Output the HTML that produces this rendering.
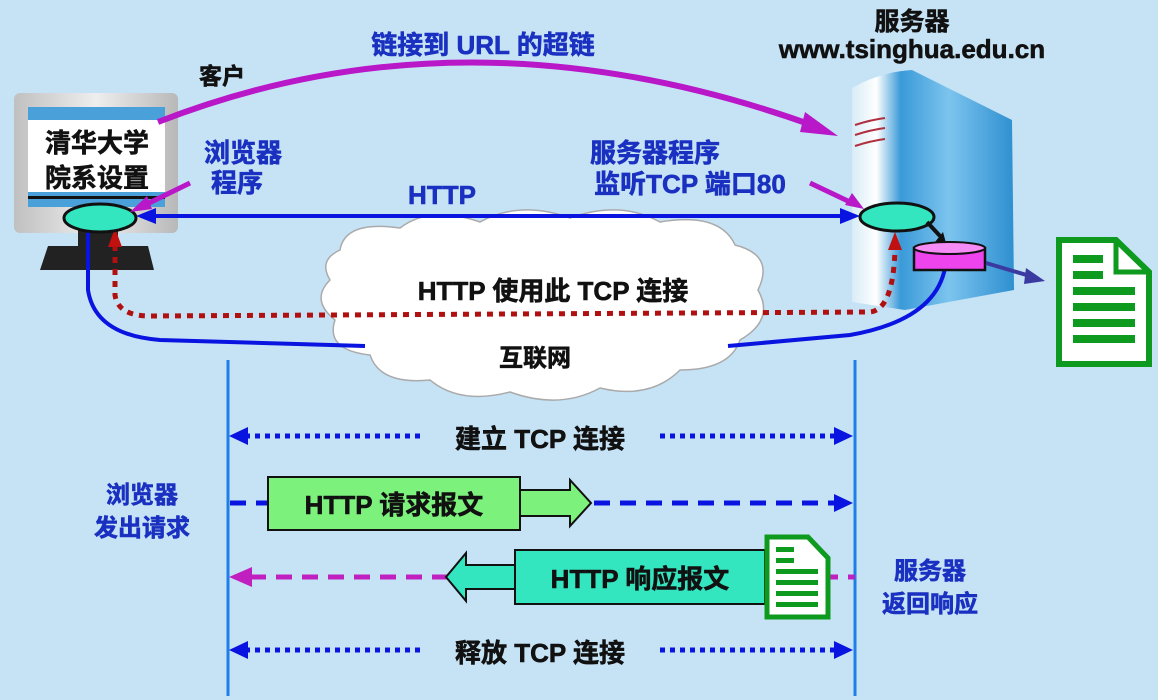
<!DOCTYPE html>
<html><head><meta charset="utf-8"><style>
html,body{margin:0;padding:0;background:#c6e3f6;}
svg{display:block;font-family:"Liberation Sans","Noto Sans CJK SC",sans-serif;font-weight:bold;}
text{stroke-width:0.6px;}
</style></head><body>
<svg width="1158" height="700" viewBox="0 0 1158 700" xmlns="http://www.w3.org/2000/svg">
<defs>
<linearGradient id="srv" x1="0" x2="1"><stop offset="0" stop-color="#d8ecf6"/><stop offset="0.15" stop-color="#ffffff"/><stop offset="0.3" stop-color="#3a9ad8"/><stop offset="0.6" stop-color="#7cc4ee"/><stop offset="1" stop-color="#2e8fd0"/></linearGradient>
<linearGradient id="mon" x1="0" x2="1"><stop offset="0" stop-color="#c0c0c0"/><stop offset="0.5" stop-color="#eeeeee"/><stop offset="1" stop-color="#b8b8b8"/></linearGradient>
</defs>

<!-- monitor -->
<rect x="14" y="93" width="164" height="140" rx="6" fill="url(#mon)"/>
<rect x="28" y="107" width="137" height="100" fill="#4aa0d8"/>
<rect x="28" y="120" width="137" height="72" fill="#fff"/>
<rect x="28" y="196" width="137" height="3" fill="#111"/>
<rect x="78" y="230" width="40" height="20" fill="#222"/>
<path d="M48,246 L148,246 L154,270 L40,270z" fill="#222"/>
<text x="97" y="152" font-size="26" text-anchor="middle" fill="#111" stroke="#111">清华大学</text>
<text x="97" y="187" font-size="26" text-anchor="middle" fill="#111" stroke="#111">院系设置</text>

<!-- server -->
<path d="M852,88 Q880,72 912,70 L1012,120 L1014,290 L905,310 L852,302z" fill="url(#srv)"/>
<path d="M855,125 Q870,120 885,118 M855,135 Q870,130 885,128 M855,146 Q870,141 885,139" stroke="#b03040" stroke-width="2" fill="none"/>

<!-- cloud -->
<path d="M340,250 Q345,220 400,228 Q430,205 480,222 Q520,200 570,218 Q620,200 660,222 Q720,212 735,245 Q775,255 758,290 Q775,320 740,340 Q730,370 680,370 Q650,400 600,388 Q560,410 510,392 Q460,405 430,380 Q380,385 370,355 Q325,350 335,320 Q310,300 330,280 Q318,260 340,250z" fill="#fff" stroke="#aaa" stroke-width="1.5"/>
<text x="553" y="300" font-size="26" text-anchor="middle" fill="#111" stroke="#111">HTTP 使用此 TCP 连接</text>
<text x="535" y="366" font-size="24" text-anchor="middle" fill="#111" stroke="#111">互联网</text>

<!-- cables -->
<path d="M88,232 L88,290 Q95,335 160,340 L365,346" stroke="#0a14e0" stroke-width="4" fill="none"/>
<path d="M728,346 L850,335 Q935,320 945,268" stroke="#0a14e0" stroke-width="4" fill="none"/>
<path d="M115,245 L115,295 Q118,316 150,316 L870,312 Q893,310 895,250" stroke="#b01010" stroke-width="5" stroke-dasharray="6,6" fill="none"/>
<path d="M108,247 L115,228 L122,247z" fill="#c01010"/>
<path d="M888,250 L895,232 L902,250z" fill="#c01010"/>

<!-- HTTP line -->
<line x1="150" y1="216" x2="845" y2="216" stroke="#0a14e0" stroke-width="4"/>
<path d="M136,216 L156,208 L156,224z" fill="#0a14e0"/>
<path d="M860,216 L840,208 L840,224z" fill="#0a14e0"/>
<text x="442" y="204" font-size="26" text-anchor="middle" fill="#1a30c0" stroke="#1a30c0">HTTP</text>

<!-- ellipses -->
<ellipse cx="100" cy="218" rx="36" ry="14" fill="#33e6c0" stroke="#111" stroke-width="3"/>
<ellipse cx="897" cy="217" rx="37" ry="14" fill="#33e6c0" stroke="#111" stroke-width="3"/>
<line x1="927" y1="222" x2="940" y2="236" stroke="#111" stroke-width="4"/>
<path d="M935,242 L946,243 L943,232z" fill="#111"/>
<rect x="914" y="248" width="71" height="22" fill="#ee44ee" stroke="#111" stroke-width="2.5"/>
<ellipse cx="949.5" cy="248" rx="35.5" ry="6" fill="#f58cf5" stroke="#111" stroke-width="2"/>
<line x1="986" y1="263" x2="1030" y2="276" stroke="#3a3aa0" stroke-width="4"/>
<path d="M1045,281 L1026,268 L1024,284z" fill="#3a3aa0"/>

<!-- doc icon right -->
<path d="M1059,240 L1116,240 L1149,272 L1149,364 L1059,364z" fill="#fff" stroke="#0e9a1e" stroke-width="6"/>
<path d="M1116,240 L1116,272 L1149,272" fill="none" stroke="#0e9a1e" stroke-width="5"/>
<g fill="#0e9a1e"><rect x="1073" y="255" width="30" height="8"/><rect x="1073" y="271" width="30" height="8"/><rect x="1073" y="287" width="62" height="8"/><rect x="1073" y="303" width="62" height="8"/><rect x="1073" y="319" width="62" height="8"/><rect x="1073" y="335" width="62" height="8"/></g>

<!-- purple arrows -->
<path d="M158,122 Q470,0 820,128" stroke="#b818c8" stroke-width="6" fill="none"/>
<path d="M838,136 L805,112 L800,132z" fill="#b818c8"/>
<line x1="190" y1="183" x2="145" y2="205" stroke="#b818c8" stroke-width="5"/>
<path d="M130,212 L147,196 L152,209z" fill="#b818c8"/>
<line x1="810" y1="183" x2="850" y2="202" stroke="#b818c8" stroke-width="5"/>
<path d="M864,209 L845,205 L852,193z" fill="#b818c8"/>

<!-- top texts -->
<text x="483" y="54" font-size="26" text-anchor="middle" fill="#1a30c0" stroke="#1a30c0">链接到 URL 的超链</text>
<text x="222" y="84" font-size="23" text-anchor="middle" fill="#111" stroke="#111">客户</text>
<text x="912" y="30" font-size="25" text-anchor="middle" fill="#111" stroke="#111">服务器</text>
<text x="912" y="58" font-size="26" text-anchor="middle" fill="#111" stroke="#111">www.tsinghua.edu.cn</text>
<text x="243" y="162" font-size="26" text-anchor="middle" fill="#1a30c0" stroke="#1a30c0">浏览器</text>
<text x="237" y="192" font-size="26" text-anchor="middle" fill="#1a30c0" stroke="#1a30c0">程序</text>
<text x="655" y="162" font-size="26" text-anchor="middle" fill="#1a30c0" stroke="#1a30c0">服务器程序</text>
<text x="690" y="193" font-size="26" text-anchor="middle" fill="#1a30c0" stroke="#1a30c0">监听TCP 端口80</text>

<!-- vertical lines -->
<line x1="228" y1="360" x2="228" y2="696" stroke="#1e7fe8" stroke-width="3"/>
<line x1="855" y1="360" x2="855" y2="696" stroke="#1e7fe8" stroke-width="3"/>

<!-- row 1 -->
<line x1="245" y1="436" x2="420" y2="436" stroke="#0a14e0" stroke-width="5" stroke-dasharray="5,5"/>
<line x1="660" y1="436" x2="835" y2="436" stroke="#0a14e0" stroke-width="5" stroke-dasharray="5,5"/>
<path d="M229,436 L248,427 L248,445z" fill="#0a14e0"/>
<path d="M853,436 L834,427 L834,445z" fill="#0a14e0"/>
<text x="540" y="448" font-size="26" text-anchor="middle" fill="#111" stroke="#111">建立 TCP 连接</text>

<!-- row 2 -->
<line x1="230" y1="503" x2="835" y2="503" stroke="#0a14e0" stroke-width="5" stroke-dasharray="16,10"/>
<path d="M853,503 L834,494 L834,512z" fill="#0a14e0"/>
<path d="M520,490 L570,490 L570,480 L591,503 L570,526 L570,516 L520,516z" fill="#7cf27c" stroke="#111" stroke-width="2"/>
<rect x="268" y="477" width="252" height="53" fill="#7cf27c" stroke="#111" stroke-width="2"/>
<text x="394" y="514" font-size="26" text-anchor="middle" fill="#111" stroke="#111">HTTP 请求报文</text>
<text x="142" y="503" font-size="24" text-anchor="middle" fill="#1a30c0" stroke="#1a30c0">浏览器</text>
<text x="142" y="536" font-size="24" text-anchor="middle" fill="#1a30c0" stroke="#1a30c0">发出请求</text>

<!-- row 3 -->
<line x1="250" y1="577" x2="855" y2="577" stroke="#c020c0" stroke-width="5" stroke-dasharray="16,10"/>
<path d="M229,577 L252,567 L252,587z" fill="#c020c0"/>
<path d="M516,565 L466,565 L466,553 L446,577 L466,601 L466,589 L516,589z" fill="#33e6c0" stroke="#111" stroke-width="2"/>
<rect x="515" y="550" width="250" height="54" fill="#33e6c0" stroke="#111" stroke-width="2"/>
<text x="640" y="588" font-size="26" text-anchor="middle" fill="#111" stroke="#111">HTTP 响应报文</text>
<path d="M767,537 L808,537 L828,558 L828,617 L767,617z" fill="#fff" stroke="#0e9a1e" stroke-width="5"/>
<g fill="#0e9a1e"><rect x="776" y="547" width="18" height="5"/><rect x="776" y="558" width="18" height="5"/><rect x="776" y="569" width="42" height="5"/><rect x="776" y="580" width="42" height="5"/><rect x="776" y="591" width="42" height="5"/><rect x="776" y="602" width="42" height="5"/></g>
<text x="930" y="579" font-size="24" text-anchor="middle" fill="#1a30c0" stroke="#1a30c0">服务器</text>
<text x="930" y="612" font-size="24" text-anchor="middle" fill="#1a30c0" stroke="#1a30c0">返回响应</text>

<!-- row 4 -->
<line x1="245" y1="650" x2="420" y2="650" stroke="#0a14e0" stroke-width="5" stroke-dasharray="5,5"/>
<line x1="660" y1="650" x2="835" y2="650" stroke="#0a14e0" stroke-width="5" stroke-dasharray="5,5"/>
<path d="M229,650 L248,641 L248,659z" fill="#0a14e0"/>
<path d="M853,650 L834,641 L834,659z" fill="#0a14e0"/>
<text x="540" y="662" font-size="26" text-anchor="middle" fill="#111" stroke="#111">释放 TCP 连接</text>
</svg>
</body></html>
